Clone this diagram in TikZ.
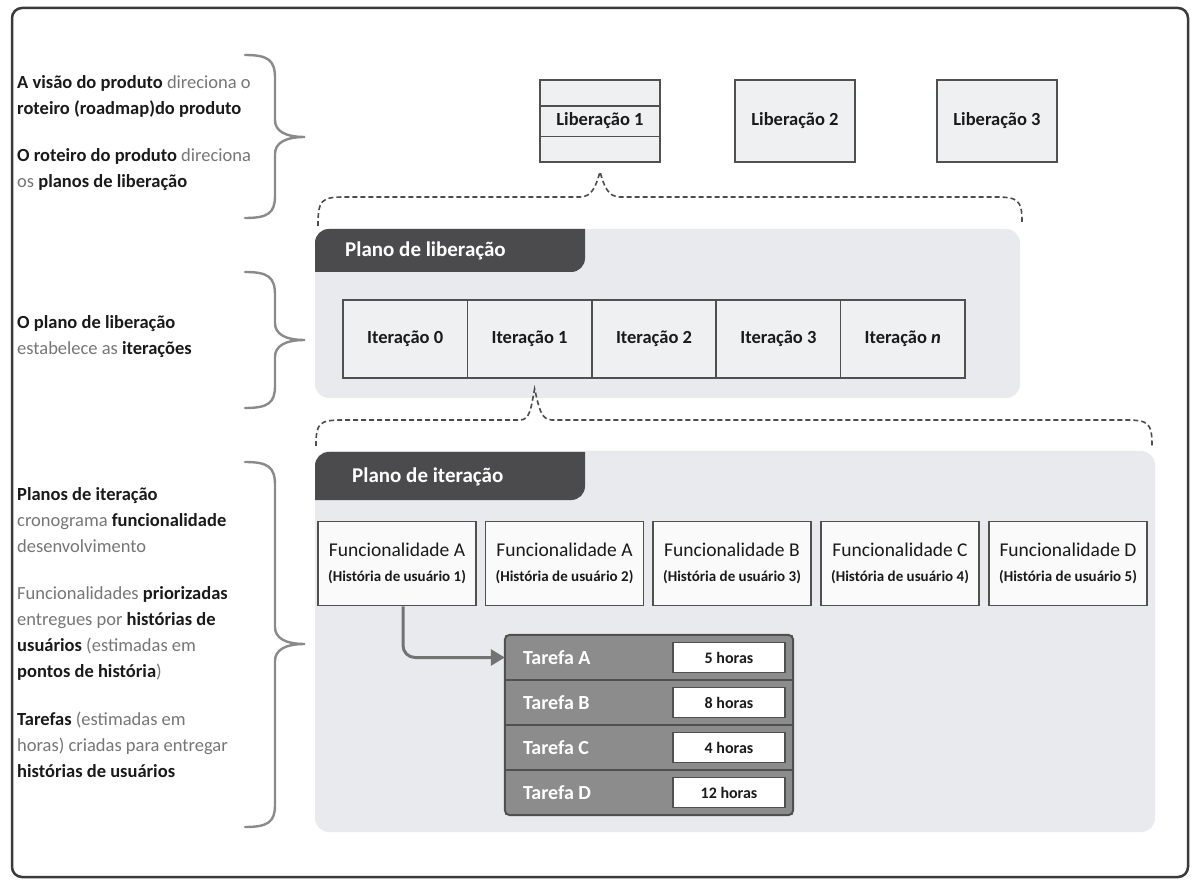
\documentclass[tikz,border=0pt]{standalone}
\usepackage{fontspec}
\setmainfont{Carlito}
\usetikzlibrary{calc,arrows.meta}
\definecolor{framecol}{HTML}{3A3A3A}
\definecolor{panelcol}{HTML}{E8EAED}
\definecolor{tabcol}{HTML}{4B4B4D}
\definecolor{boxfill}{HTML}{EFF0F2}
\definecolor{boxline}{HTML}{505050}
\definecolor{notecol}{HTML}{767676}
\definecolor{inkcol}{HTML}{1A1A1A}
\definecolor{bracecol}{HTML}{8A8A8A}
\definecolor{taskcol}{HTML}{8C8C8C}
\newcommand\kw[1]{{\color{inkcol}\bfseries #1}}
\newcommand\storyfont{\fontsize{15}{17}\selectfont\bfseries}
\begin{document}
\begin{tikzpicture}[x=1pt,y=-1pt,
  lbl/.style={font=\fontsize{18.5}{22}\selectfont\bfseries, text=inkcol},
  libbox/.style={draw=boxline, fill=boxfill, line width=1.6pt, minimum width=120pt, minimum height=82pt, inner sep=0pt, lbl},
  iterbox/.style={draw=boxline, fill=boxfill, line width=1.6pt, minimum width=124.4pt, minimum height=78pt, inner sep=0pt, lbl},
  featbox/.style={draw=boxline, fill=white!96!gray, line width=1.6pt, minimum width=158pt, minimum height=84pt, inner sep=0pt, align=center, text=inkcol, font=\fontsize{19.5}{25}\selectfont},
  notetext/.style={anchor=north west, inner sep=0pt, align=left, font=\fontsize{18.5}{26}\selectfont, text=notecol},
  sidebrace/.style={draw=bracecol, line width=2.4pt, line cap=round},
  dashbrace/.style={draw=black!70, line width=1.6pt, dash pattern=on 5pt off 3pt},
  panel/.style={fill=panelcol, rounded corners=14pt, inner sep=0pt},
  tabfill/.style={fill=tabcol},
  tabtext/.style={text=white, font=\fontsize{21}{24}\selectfont\bfseries, anchor=west, inner sep=0pt},
  taskrow/.style={fill=taskcol, minimum width=288pt, minimum height=45pt, inner sep=0pt},
  taskname/.style={text=white, font=\fontsize{20}{22}\selectfont\bfseries, anchor=west, inner sep=0pt},
  hours/.style={draw=boxline, fill=white, line width=1.6pt, minimum width=112pt, minimum height=30pt, inner sep=0pt, text=inkcol, font=\fontsize{16}{18}\selectfont\bfseries},
  flow/.style={draw=black!55, line width=3pt, rounded corners=12pt, -{Triangle[length=14pt,width=16pt]}}
]
\useasboundingbox (0,0) rectangle (1200,882);
\fill[white] (0,0) rectangle (1200,882);

% outer frame
\draw[framecol, line width=2.5pt, rounded corners=10pt] (12,8) rectangle (1188,877);

% ---------- left notes and braces ----------
\node[notetext] (n1) at (17,75) {\kw{A visão do produto} direciona o\\\kw{roteiro (roadmap)do produto}};
\node[notetext] (n2) at (17,148) {\kw{O roteiro do produto} direciona\\os \kw{planos de liberação}};
\node[notetext] (n3) at (17,315) {\kw{O plano de liberação}\\estabelece as \kw{iterações}};
\node[notetext] (n4) at (17,487) {\kw{Planos de iteração}\\cronograma \kw{funcionalidade}\\desenvolvimento};
\node[notetext] (n5) at (17,586) {Funcionalidades \kw{priorizadas}\\entregues por \kw{histórias de}\\\kw{usuários} (estimadas em\\\kw{pontos de história})};
\node[notetext] (n6) at (17,712) {\kw{Tarefas} (estimadas em\\horas) criadas para entregar\\\kw{histórias de usuários}};

\draw[sidebrace] (245,55) .. controls (268,55) and (275,60) .. (275,78) -- (275,120)
  .. controls (275,131) and (285,137) .. (305,137) .. controls (285,137) and (275,143) .. (275,154)
  -- (275,196) .. controls (275,213) and (268,218) .. (245,218);
\draw[sidebrace] (245,272) .. controls (268,272) and (275,277) .. (275,295) -- (275,323)
  .. controls (275,334) and (285,340) .. (305,340) .. controls (285,340) and (275,346) .. (275,357)
  -- (275,386) .. controls (275,403) and (268,408) .. (245,408);
\draw[sidebrace] (245,462) .. controls (268,462) and (275,467) .. (275,485) -- (275,627)
  .. controls (275,638) and (285,644) .. (305,644) .. controls (285,644) and (275,650) .. (275,661)
  -- (275,805) .. controls (275,822) and (268,827) .. (245,827);

% ---------- releases ----------
\node[libbox] (lib1) at (600,121) {Liberação 1};
\draw[boxline, line width=1.4pt] ($(lib1.north west)+(0,27)$) -- ($(lib1.north east)+(0,27)$);
\draw[boxline, line width=1.4pt] ($(lib1.south west)+(0,-26)$) -- ($(lib1.south east)+(0,-26)$);
\node[libbox] (lib2) at (795,121) {Liberação 2};
\node[libbox] (lib3) at (997,121) {Liberação 3};

% ---------- release plan ----------
\node[panel, minimum width=705pt, minimum height=169pt] (relpanel) at (667.5,313.5) {};
\path[tabfill] (315,272) -- (315,243) .. controls (315,235) and (321,229) .. (329,229)
  -- (585,229) -- (585,258) .. controls (585,266) and (579,272) .. (571,272) -- cycle;
\node[tabtext] (reltab) at (345,251) {Plano de liberação};

\foreach \i/\t in {0/Iteração 0,1/Iteração 1,2/Iteração 2,3/Iteração 3,4/Iteração \textit{n}}
  \node[iterbox] (it\i) at (405.2+124.4*\i,339) {\t};

\coordinate (peak1) at ($(lib1.south)+(0,9)$);
\draw[dashbrace] (318,226) .. controls (318,200) and (321,197) .. (345,197) -- (580,197)
  .. controls (592,197) and (596,186) .. (peak1) .. controls (604,186) and (608,197) .. (620,197)
  -- (995,197) .. controls (1018,197) and (1022,200) .. (1022,222);

% ---------- iteration plan ----------
\node[panel, minimum width=840pt, minimum height=381pt] (itpanel) at (735,641.5) {};
\path[tabfill] (315,500) -- (315,466) .. controls (315,458) and (321,452) .. (329,452)
  -- (585,452) -- (585,486) .. controls (585,494) and (579,500) .. (571,500) -- cycle;
\node[tabtext] (ittab) at (352,477) {Plano de iteração};

\coordinate (peak2) at ($(it1.south)+(5,10)$);
\draw[dashbrace] (316,446) .. controls (316,423) and (319,420) .. (343,420) -- (520,420)
  .. controls (530,420) and (531,408) .. (peak2) .. controls (539,408) and (541,420) .. (552,420)
  -- (1125,420) .. controls (1149,420) and (1152,423) .. (1152,446);

\node[featbox] (f1) at (397,563.5) {Funcionalidade A\\{\storyfont(História de usuário 1)}};
\node[featbox] (f2) at (564.5,563.5) {Funcionalidade A\\{\storyfont(História de usuário 2)}};
\node[featbox] (f3) at (732,563.5) {Funcionalidade B\\{\storyfont(História de usuário 3)}};
\node[featbox] (f4) at (900,563.5) {Funcionalidade C\\{\storyfont(História de usuário 4)}};
\node[featbox] (f5) at (1068,563.5) {Funcionalidade D\\{\storyfont(História de usuário 5)}};

% ---------- tasks ----------
\foreach \r/\y in {A/657.5,B/702.5,C/747.5,D/792.5}{
  \node[taskrow] (t\r) at (649,\y) {};
  \node[taskname] at ($(t\r.west)+(18,0)$) {Tarefa \r};
}
\node[hours] (hA) at (729,657.5) {5 horas};
\node[hours] (hB) at (729,702.5) {8 horas};
\node[hours] (hC) at (729,747.5) {4 horas};
\node[hours] (hD) at (729,792.5) {12 horas};
\draw[boxline, line width=1.6pt] (tA.south west) -- (tA.south east);
\draw[boxline, line width=1.6pt] (tB.south west) -- (tB.south east);
\draw[boxline, line width=1.6pt] (tC.south west) -- (tC.south east);
\draw[boxline, line width=2pt, rounded corners=5pt] (tA.north west) rectangle (tD.south east);

\draw[flow] ($(f1.south)+(6,0)$) |- (tA.west);
\end{tikzpicture}
\end{document}
